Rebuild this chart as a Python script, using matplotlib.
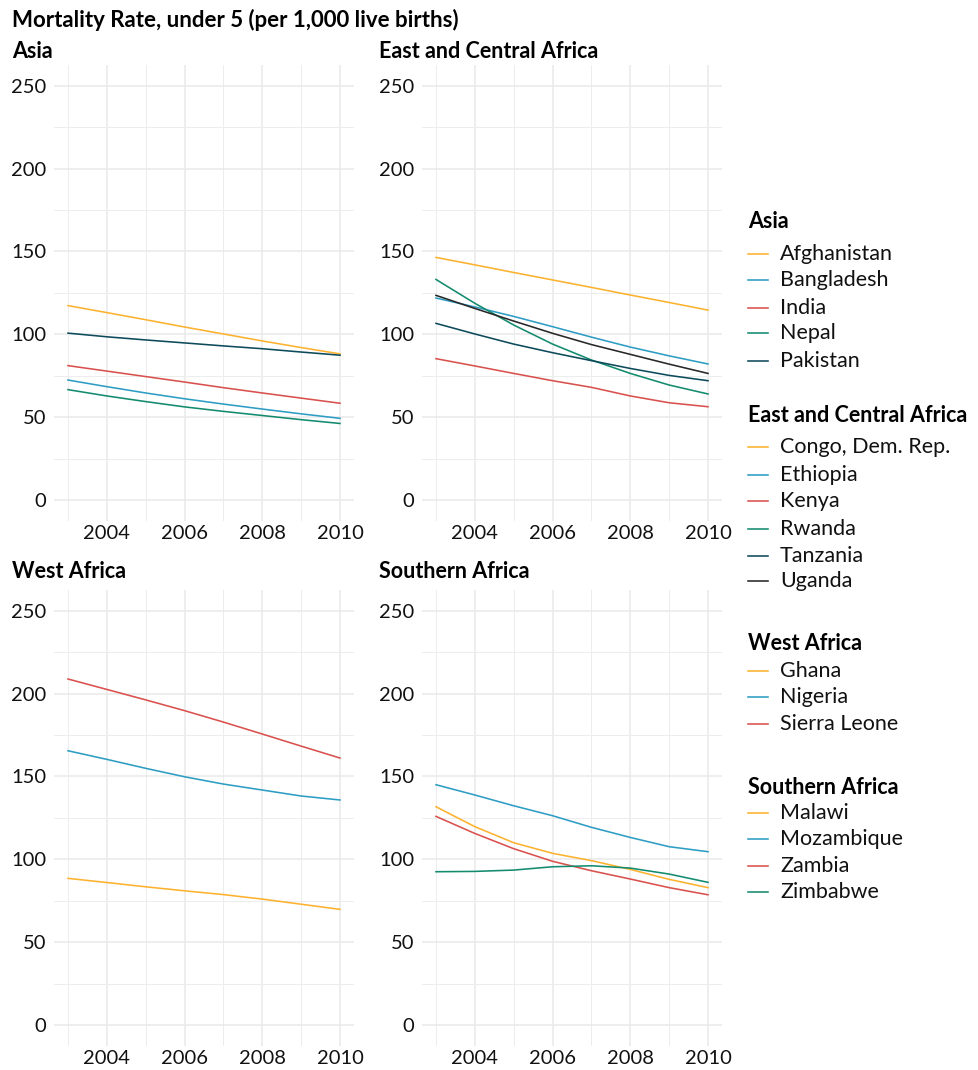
import matplotlib.pyplot as plt
from matplotlib.lines import Line2D

plt.rcParams['font.family'] = ['Lato', 'DejaVu Sans']

years = [2003, 2004, 2005, 2006, 2007, 2008, 2009, 2010]

# under-5 mortality per 1,000 live births, 2003-2010
asia = {
    'Afghanistan': [117.3, 113.1, 108.8, 104.4, 100.2, 96.0, 92.0, 88.2],
    'Bangladesh': [72.4, 68.4, 64.6, 61.1, 57.9, 54.9, 52.0, 49.3],
    'India': [81.1, 77.8, 74.5, 71.2, 67.8, 64.6, 61.5, 58.4],
    'Nepal': [66.6, 62.8, 59.4, 56.2, 53.5, 51.0, 48.5, 46.2],
    'Pakistan': [100.7, 98.5, 96.6, 94.8, 93.0, 91.3, 89.3, 87.4],
}
east_central = {
    'Congo, Dem. Rep.': [146.4, 141.9, 137.3, 132.8, 128.3, 123.7, 119.2, 114.6],
    'Ethiopia': [121.9, 116.5, 110.8, 104.6, 98.3, 92.3, 87.0, 82.1],
    'Kenya': [85.3, 80.9, 76.4, 72.0, 68.0, 62.8, 58.7, 56.3],
    'Rwanda': [133.1, 118.7, 105.6, 94.1, 84.5, 76.4, 69.4, 64.0],
    'Tanzania': [106.6, 100.2, 94.1, 88.9, 84.1, 79.4, 75.2, 72.0],
    'Uganda': [123.5, 115.6, 108.0, 100.6, 93.8, 87.9, 82.0, 76.4],
}
west = {
    'Ghana': [88.5, 86.0, 83.4, 81.0, 78.7, 76.0, 72.9, 69.8],
    'Nigeria': [165.5, 160.3, 154.9, 149.8, 145.4, 141.8, 138.2, 135.8],
    'Sierra Leone': [208.8, 202.5, 196.2, 189.7, 182.8, 175.6, 168.3, 161.1],
}
southern = {
    'Malawi': [131.7, 119.7, 110.0, 103.6, 99.2, 93.9, 87.9, 82.9],
    'Mozambique': [145.0, 138.8, 132.3, 126.3, 119.3, 113.2, 107.6, 104.6],
    'Zambia': [125.9, 115.6, 106.4, 98.8, 93.1, 88.1, 82.9, 78.6],
    'Zimbabwe': [92.5, 92.7, 93.5, 95.5, 96.1, 94.7, 91.1, 86.1],
}

regions = [
    ('Asia', asia),
    ('East and Central Africa', east_central),
    ('West Africa', west),
    ('Southern Africa', southern),
]

palette = ['#FDB22F', '#2E9DC4', '#D9514E', '#138B6E', '#0D4A5B', '#282828']

W, H = 979, 1070


def fx(px):
    return px / W


def fy(py):
    return 1 - py / H


def box(left, top, right, bottom):
    return [fx(left), fy(bottom), (right - left) / W, (bottom - top) / H]


fig = plt.figure(figsize=(W / 100, H / 100), dpi=100)

panels = [
    box(54.4, 65, 353.6, 520.75),
    box(422.4, 65, 721.6, 520.75),
    box(54.4, 590, 353.6, 1045.75),
    box(422.4, 590, 721.6, 1045.75),
]
title_pos = [(12, 52), (379, 52), (12, 572), (379, 572)]

for (name, data), rect, (tx, ty) in zip(regions, panels, title_pos):
    ax = fig.add_axes(rect)
    for i, (country, vals) in enumerate(data.items()):
        ax.plot(years, vals, color=palette[i], lw=1.15, zorder=3)
    ax.set_xlim(2002.65, 2010.35)
    ax.set_ylim(-12.5, 262.5)
    ax.set_xticks([2004, 2006, 2008, 2010])
    ax.set_xticks([2003, 2005, 2007, 2009], minor=True)
    ax.set_yticks([0, 50, 100, 150, 200, 250])
    ax.set_yticks([25, 75, 125, 175, 225], minor=True)
    ax.grid(which='major', color='#EAEAEA', lw=1.1)
    ax.grid(which='minor', color='#EDEDED', lw=0.7)
    ax.set_axisbelow(True)
    for s in ax.spines.values():
        s.set_visible(False)
    ax.tick_params(which='both', length=0, labelsize=14.5, colors='#111111')
    ax.tick_params(axis='y', pad=6)
    ax.tick_params(axis='x', pad=3)
    fig.text(fx(tx), fy(ty), name, fontsize=15.5, fontweight='bold', ha='left', va='center')

fig.text(fx(12), fy(20), 'Mortality Rate, under 5 (per 1,000 live births)',
         fontsize=16, fontweight='bold', ha='left', va='center')

# grouped legend on the right
legend_title_y = [221, 416, 644, 787]
legend_item_y = [
    [254, 280, 308, 333, 361],
    [447, 475, 501, 529, 556, 581],
    [671, 697, 724],
    [813, 839, 866, 892],
]
for (name, data), ty, ys in zip(regions, legend_title_y, legend_item_y):
    fig.text(fx(748), fy(ty), name, fontsize=15.5, fontweight='bold', ha='left', va='center')
    for i, (country, yy) in enumerate(zip(data.keys(), ys)):
        fig.add_artist(Line2D([fx(748), fx(768)], [fy(yy), fy(yy)], color=palette[i],
                              lw=1.15, transform=fig.transFigure))
        fig.text(fx(780), fy(yy), country, fontsize=15.5, ha='left', va='center', color='#111111')

fig.savefig('out.png', dpi=100, facecolor='white')
